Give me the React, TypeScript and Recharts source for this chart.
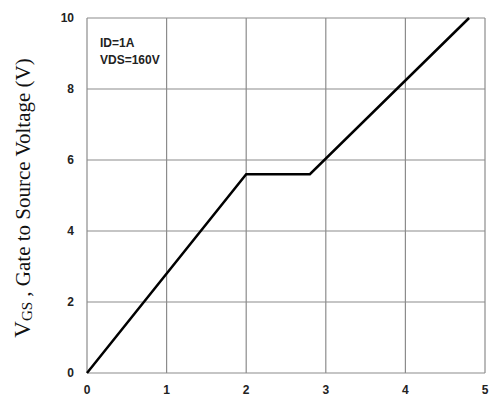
import React from "react";
import { LineChart, Line, XAxis, YAxis, CartesianGrid } from "recharts";

const chargeNC = [0, 2, 2.8, 4.8];
const vgsV = [0, 5.6, 5.6, 10];
const xTicks = [0, 1, 2, 3, 4, 5];
const yTicks = [0, 2, 4, 6, 8, 10];
const noteLines = ["ID=1A", "VDS=160V"];

const data = chargeNC.map((q, i) => ({ q, v: vgsV[i] }));

const tickStyle = {
  fontFamily: "Liberation Sans, Arial, sans-serif",
  fontSize: 12,
  fontWeight: 700,
  fill: "#222",
};

const YLabel = () => (
  <text
    x={25}
    y={198}
    transform="rotate(-90 25 198)"
    textAnchor="middle"
    dominantBaseline="middle"
    fontFamily="Liberation Serif, Times New Roman, serif"
    fontSize={21}
    fill="#111"
  >
    <tspan fontSize={23}>V</tspan>
    <tspan fontSize={15} dy={4}>GS</tspan>
    <tspan dy={-4}> , Gate to Source Voltage (V)</tspan>
  </text>
);

export default function App() {
  return (
    <div style={{ position: "absolute", left: 0, top: 0, width: 494, height: 402, background: "#fff" }}>
      <LineChart width={494} height={402} data={data} margin={{ top: 18, right: 9, bottom: 0, left: 27 }}>
        <CartesianGrid stroke="#8c8c8c" strokeWidth={1.2} />
        <XAxis
          dataKey="q"
          type="number"
          domain={[0, 5]}
          ticks={xTicks}
          axisLine={false}
          tickLine={false}
          tickMargin={6}
          height={29}
          tick={tickStyle}
          interval={0}
        />
        <YAxis
          type="number"
          domain={[0, 10]}
          ticks={yTicks}
          axisLine={false}
          tickLine={false}
          tickMargin={7}
          width={60}
          tick={tickStyle}
          interval={0}
          label={<YLabel />}
        />
        <Line
          type="linear"
          dataKey="v"
          stroke="#000"
          strokeWidth={2.5}
          dot={false}
          isAnimationActive={false}
        />
      </LineChart>
      <div
        style={{
          position: "absolute",
          left: 100,
          top: 35,
          fontFamily: "Liberation Sans, Arial, sans-serif",
          fontSize: 12,
          fontWeight: 700,
          lineHeight: "17px",
          color: "#222",
        }}
      >
        {noteLines.map((t) => (
          <div key={t}>{t}</div>
        ))}
      </div>
    </div>
  );
}
